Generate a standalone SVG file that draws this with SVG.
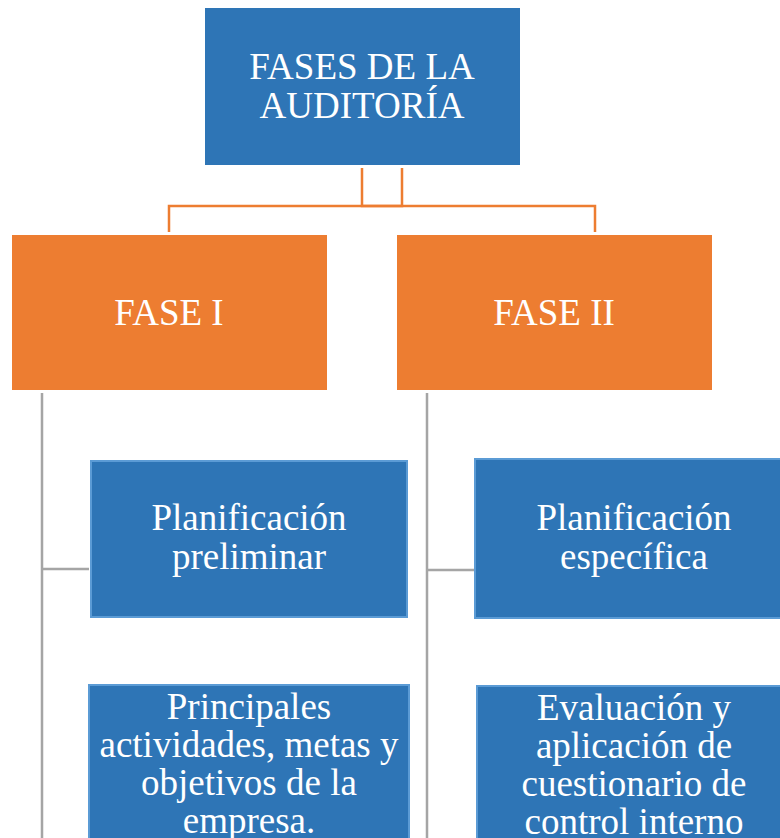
<svg xmlns="http://www.w3.org/2000/svg" width="780" height="838" viewBox="0 0 780 838">
<style>
.blue{fill:#2E75B6;}
.blue2{fill:#2E75B6;stroke:#5B9BD5;stroke-width:2;}
.orange{fill:#ED7D31;}
.t{font-family:"Liberation Serif","Times New Roman",serif;font-size:37px;fill:#FFFFFF;text-anchor:middle;}
.oc{fill:none;stroke:#ED7D31;stroke-width:2.5;}
.gc{fill:none;stroke:#A5A5A5;stroke-width:2.5;}
</style>
<rect width="780" height="838" fill="#FFFFFF"/>
<g id="connectors">
<path class="oc" d="M362,168 V206 H595 V232"/>
<path class="oc" d="M402,168 V206 H169 V232"/>
<path class="gc" d="M42,393 V838 M42,569 H89"/>
<path class="gc" d="M427,393 V838 M427,570 H474"/>
</g>
<g id="root">
<rect class="blue" x="205" y="8" width="315" height="157"/>
<text class="t" x="362" y="79">FASES DE LA</text>
<text class="t" x="362" y="118">AUDITORÍA</text>
</g>
<g id="fase1">
<rect class="orange" x="12" y="235" width="315" height="155"/>
<text class="t" x="169" y="325">FASE I</text>
</g>
<g id="fase2">
<rect class="orange" x="397" y="235" width="315" height="155"/>
<text class="t" x="554" y="325">FASE II</text>
</g>
<g id="plan-preliminar">
<rect class="blue2" x="91" y="461" width="316" height="156"/>
<text class="t" x="249" y="530">Planificación</text>
<text class="t" x="249" y="569">preliminar</text>
</g>
<g id="plan-especifica">
<rect class="blue2" x="475" y="459" width="320" height="159"/>
<text class="t" x="634" y="530">Planificación</text>
<text class="t" x="634" y="569">específica</text>
</g>
<g id="principales">
<rect class="blue2" x="89" y="685" width="320" height="170"/>
<text class="t" x="249" y="719">Principales</text>
<text class="t" x="249" y="757">actividades, metas y</text>
<text class="t" x="249" y="795">objetivos de la</text>
<text class="t" x="249" y="833">empresa.</text>
</g>
<g id="evaluacion">
<rect class="blue2" x="477" y="686" width="320" height="170"/>
<text class="t" x="634" y="720">Evaluación y</text>
<text class="t" x="634" y="758">aplicación de</text>
<text class="t" x="634" y="796">cuestionario de</text>
<text class="t" x="634" y="834">control interno</text>
</g>
</svg>
